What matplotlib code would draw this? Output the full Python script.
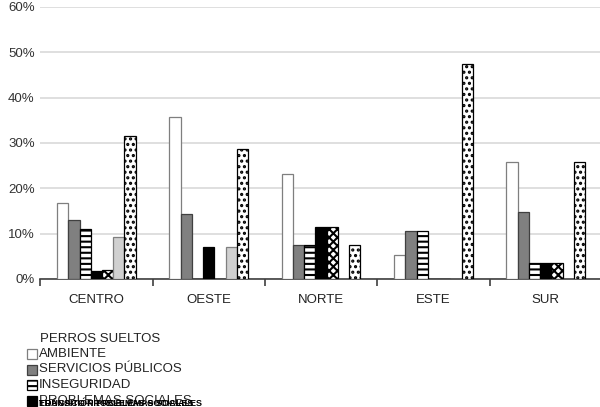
import matplotlib
matplotlib.use("Agg")
import matplotlib.pyplot as plt
import numpy as np
from matplotlib.patches import Rectangle

plt.rcParams['font.family'] = ['Liberation Sans', 'DejaVu Sans']
plt.rcParams['hatch.linewidth'] = 1.5

#------------------------------------------------------------------------------
# data (in %)
zonas = ["CENTRO", "OESTE", "NORTE", "ESTE", "SUR"]
ambiente = [16.7, 35.7, 23.1, 5.2, 25.9]
servicios = [13.0, 14.3, 7.6, 10.5, 14.8]
inseguridad = [11.1, 0, 7.6, 10.5, 3.6]
problemas = [1.8, 7.1, 11.4, 0, 3.6]
transito = [1.9, 0, 11.4, 0, 3.6]
educacion = [9.2, 7.1, 0, 0, 0]
perros = [31.5, 28.6, 7.6, 47.4, 25.9]
nombres = ["AMBIENTE", "SERVICIOS PÚBLICOS", "INSEGURIDAD", "PROBLEMAS SOCIALES",
           "TRÁNSITO", "EDUCACIÓN", "PERROS SUELTOS"]
yticks = [0, 10, 20, 30, 40, 50, 60]

#------------------------------------------------------------------------------
series = [ambiente, servicios, inseguridad, problemas, transito, educacion, perros]
# facecolor, edgecolor, hatch
styles = [("white", "#7f7f7f", None),
          ("#808080", "#404040", None),
          ("white", "black", "---"),
          ("black", "black", None),
          ("white", "black", "xxxx"),
          ("#d0d0d0", "#7f7f7f", None),
          ("white", "black", "...")]

fig = plt.figure(figsize=(6.0, 4.07), dpi=100)
ax = fig.add_axes([0.067, 0.3145, 0.94, 0.6685])

x = np.arange(len(zonas))
w = 0.1
for i, (vals, (fc, ec, h)) in enumerate(zip(series, styles)):
    ax.bar(x + (i - 3) * w, vals, w, color=fc, edgecolor=ec, hatch=h,
           linewidth=0.9, zorder=3)

ax.set_xlim(-0.5, len(zonas) - 0.5 + 0.02)
ax.set_ylim(0, 60)
ax.set_yticks(yticks)
ax.set_yticklabels(["%d%%" % v for v in yticks], fontsize=9.5, color="#333333")
ax.grid(axis="y", color="#dcdcdc", linewidth=1.3, zorder=0)
for s in ["top", "right", "left"]:
    ax.spines[s].set_visible(False)
ax.spines["bottom"].set_color("#404040")
ax.spines["bottom"].set_linewidth(1.2)
ax.tick_params(axis="y", length=0, pad=4)
ax.set_xticks(np.arange(len(zonas) + 1) - 0.5, minor=False)
ax.set_xticklabels([])
ax.tick_params(axis="x", direction="out", length=5, color="#404040", width=1.2)
for xi, z in zip(x, zonas):
    ax.text(xi, -3.4, z, ha="center", va="top", fontsize=9.5, color="#222222")

#------------------------------------------------------------------------------
# legend drawn by hand (it is cut at the bottom of the picture)
lg = fig.add_axes([0, 0, 1, 1])
lg.set_xlim(0, 600)
lg.set_ylim(407, 0)
lg.axis("off")
lg.text(40, 339, nombres[6], fontsize=9.5, va="center", color="#222222")
ypos = [354, 369.5, 385, 400.5]
for k in range(4):
    fc, ec, h = styles[k]
    lg.add_patch(Rectangle((27, ypos[k] - 5), 10, 10, facecolor=fc, edgecolor=ec,
                           hatch=h, linewidth=0.9))
    lg.text(39, ypos[k], nombres[k], fontsize=9.5, va="center", color="#222222")
for k in [4, 5]:
    lg.text(39, 404, nombres[k] + " " + nombres[3], fontsize=6.5, va="center",
            color="black", fontweight="bold")

fig.savefig("out.png", dpi=100)
